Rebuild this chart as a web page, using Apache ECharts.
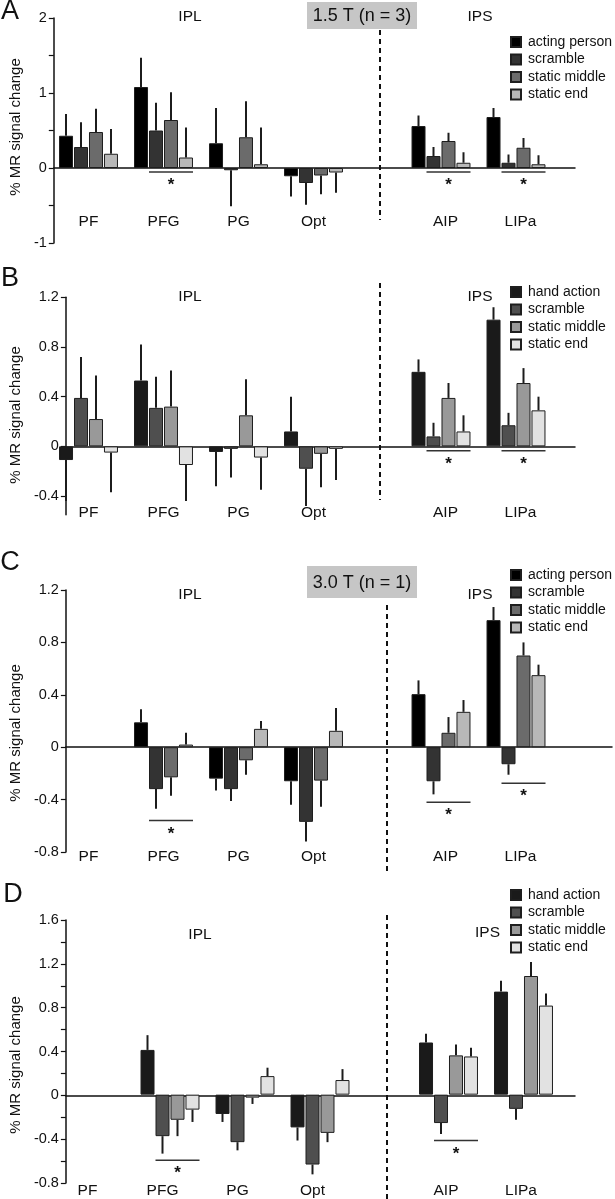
<!DOCTYPE html>
<html><head><meta charset="utf-8">
<script src="https://cdn.jsdelivr.net/npm/echarts@6/dist/echarts.min.js"></script>
<style>html,body{margin:0;padding:0;background:#fff}#c{width:615px;height:1199px}</style>
</head><body><div id="c"></div>
<script>
// ---------- DATA ----------
const catsIPL = ['PF', 'PFG', 'PG', 'Opt'];
const catsIPS = ['AIP', 'LIPa'];
const condNamesAC = ['acting person', 'scramble', 'static middle', 'static end'];
const condNamesBD = ['hand action', 'scramble', 'static middle', 'static end'];

// Panel A (1.5 T, acting person) : rows = conditions, cols = categories
const A_IPL = [[0.43, 1.08, 0.33, -0.11], [0.28, 0.50, -0.03, -0.20], [0.48, 0.64, 0.41, -0.10], [0.19, 0.14, 0.05, -0.06]];
const A_IPL_sem = [[0.29, 0.39, 0.47, 0.27], [0.33, 0.37, 0.48, 0.29], [0.31, 0.37, 0.48, 0.25], [0.33, 0.40, 0.49, 0.27]];
const A_IPS = [[0.56, 0.68], [0.16, 0.07], [0.36, 0.27], [0.07, 0.05]];
const A_IPS_sem = [[0.14, 0.12], [0.12, 0.11], [0.11, 0.13], [0.14, 0.12]];

// Panel B (1.5 T, hand action)
const B_IPL = [[-0.11, 0.53, -0.045, 0.12], [0.39, 0.31, -0.02, -0.18], [0.22, 0.32, 0.25, -0.06], [-0.05, -0.15, -0.09, -0.02]];
const B_IPL_sem = [[0.33, 0.29, 0.275, 0.28], [0.33, 0.25, 0.23, 0.30], [0.35, 0.29, 0.29, 0.27], [0.32, 0.29, 0.26, 0.25]];
const B_IPS = [[0.60, 1.02], [0.08, 0.17], [0.39, 0.51], [0.12, 0.29]];
const B_IPS_sem = [[0.10, 0.10], [0.11, 0.10], [0.12, 0.12], [0.13, 0.11]];

// Panel C (3.0 T, acting person)
const C_IPL = [[null, 0.19, -0.24, -0.26], [null, -0.32, -0.32, -0.57], [null, -0.23, -0.10, -0.255], [null, 0.02, 0.14, 0.125]];
const C_IPL_sem = [[null, 0.10, 0.09, 0.18], [null, 0.15, 0.09, 0.15], [null, 0.14, 0.11, 0.20], [null, 0.09, 0.06, 0.175]];
const C_IPS = [[0.405, 0.97], [-0.26, -0.13], [0.11, 0.70], [0.27, 0.55]];
const C_IPS_sem = [[0.105, 0.10], [0.10, 0.08], [0.12, 0.10], [0.09, 0.08]];

// Panel D (3.0 T, hand action)
const D_IPL = [[null, 0.41, -0.177, -0.30], [null, -0.38, -0.435, -0.64], [null, -0.23, -0.027, -0.35], [null, -0.137, 0.17, 0.134]];
const D_IPL_sem = [[null, 0.135, 0.073, 0.12], [null, 0.16, 0.075, 0.09], [null, 0.15, 0.058, 0.085], [null, 0.113, 0.077, 0.10]];
const D_IPS = [[0.478, 0.944], [-0.26, -0.13], [0.36, 1.087], [0.35, 0.816]];
const D_IPS_sem = [[0.08, 0.10], [0.10, 0.10], [0.10, 0.128], [0.08, 0.11]];

// significance brackets: [region, categoryIndex, fromCond, toCond, level]
const A_sig = [['IPL', 1, 1, 3, -0.053], ['IPS', 0, 1, 3, -0.053], ['IPS', 1, 1, 3, -0.053]];
const B_sig = [['IPS', 0, 1, 3, -0.035], ['IPS', 1, 1, 3, -0.035]];
const C_sig = [['IPL', 1, 1, 3, -0.56], ['IPS', 0, 1, 3, -0.42], ['IPS', 1, 1, 3, -0.275]];
const D_sig = [['IPL', 1, 1, 3, -0.60], ['IPS', 0, 1, 3, -0.42]];

// axis ticks / tick labels
const A_ticks = [-1, -0.5, 0, 0.5, 1, 1.5, 2];
const A_tickLabels = [-1, 0, 1, 2];
const B_ticks = [-0.4, 0, 0.4, 0.8, 1.2];
const B_tickLabels = [-0.4, 0, 0.4, 0.8, 1.2];
const C_ticks = [-0.8, -0.4, 0, 0.4, 0.8, 1.2];
const C_tickLabels = [-0.8, -0.4, 0, 0.4, 0.8, 1.2];
const D_ticks = [-0.8, -0.6, -0.4, -0.2, 0, 0.2, 0.4, 0.6, 0.8, 1.0, 1.2, 1.4, 1.6];
const D_tickLabels = [-0.8, -0.4, 0, 0.4, 0.8, 1.2, 1.6];

const fieldLabels = ['1.5 T (n = 3)', '3.0 T (n = 1)'];
const yName = '% MR signal change';

// ---------- LAYOUT / STYLE ----------
const FONT = "'Liberation Sans', Arial, Helvetica, sans-serif";
const colorsAC = ['#000000', '#333333', '#6b6b6b', '#b8b8b8'];
const colorsBD = ['#1a1a1a', '#4f4f4f', '#999999', '#e2e2e2'];
const BW = 14, STEP = 15;

const panels = [
  {id: 'A', names: condNamesAC, colors: colorsAC, ipl: A_IPL, iplSem: A_IPL_sem, ips: A_IPS, ipsSem: A_IPS_sem, sig: A_sig,
   ticks: A_ticks, tickLabels: A_tickLabels, min: -1, max: 2, top: 18, height: 225, Lx: 51, Rx: 403.5, fw: 524,
   labMargin: -21, lPad: [0, 0, 0, 0], rPad: [0, 0, 0, 9], namePad: [0, 0, 0, 7], legTop: 35},
  {id: 'B', names: condNamesBD, colors: colorsBD, ipl: B_IPL, iplSem: B_IPL_sem, ips: B_IPS, ipsSem: B_IPS_sem, sig: B_sig,
   ticks: B_ticks, tickLabels: B_tickLabels, min: -0.55, max: 1.2, top: 297.3, height: 217.4, Lx: 51, Rx: 403.5, fw: 524,
   labMargin: -1.5, lPad: [0, 0, 0, 0], rPad: [0, 0, 0, 9], namePad: [0, 18, 0, 0], legTop: 285},
  {id: 'C', names: condNamesAC, colors: colorsAC, ipl: C_IPL, iplSem: C_IPL_sem, ips: C_IPS, ipsSem: C_IPS_sem, sig: C_sig,
   ticks: C_ticks, tickLabels: C_tickLabels, min: -0.8, max: 1.2, top: 590, height: 262, Lx: 51, Rx: 403.5, fw: 561,
   labMargin: 5, lPad: [0, 0, 0, 0], rPad: [0, 0, 0, 9], namePad: [0, 24, 0, 0], legTop: 568},
  {id: 'D', names: condNamesBD, colors: colorsBD, ipl: D_IPL, iplSem: D_IPL_sem, ips: D_IPS, ipsSem: D_IPS_sem, sig: D_sig,
   ticks: D_ticks, tickLabels: D_tickLabels, min: -0.8, max: 1.6, top: 920, height: 263, Lx: 57.5, Rx: 411, fw: 524,
   labMargin: 9, lPad: [0, 15, 0, 0], rPad: [0, 5, 0, 0], namePad: [0, 27, 0, 0], legTop: 888}
];

const grid = [], xAxis = [], yAxis = [], series = [], legend = [];

function errRender(params, api) {
  const ci = api.value(0), k = api.value(1), v = api.value(2), e = api.value(3);
  const x = api.coord([ci, 0])[0] + (k - 1.5) * STEP;
  const y1 = api.coord([ci, v])[1];
  const y2 = api.coord([ci, v >= 0 ? v + e : v - e])[1];
  return {type: 'line', shape: {x1: x, y1: y1, x2: x, y2: y2}, style: {stroke: '#1c1c1c', lineWidth: 2}};
}
function sigRender(params, api) {
  const ci = api.value(0), k1 = api.value(1), k2 = api.value(2), lv = api.value(3);
  const c = api.coord([ci, lv]);
  const x1 = c[0] + (k1 - 1.5) * STEP - BW / 2;
  const x2 = c[0] + (k2 - 1.5) * STEP + BW / 2;
  return {type: 'group', children: [
    {type: 'line', shape: {x1: x1, y1: c[1], x2: x2, y2: c[1]}, style: {stroke: '#333', lineWidth: 1.5}},
    {type: 'text', x: (x1 + x2) / 2, y: c[1] + 5, style: {text: '*', fill: '#111', font: 'bold 17px ' + FONT, align: 'center', verticalAlign: 'top'}}
  ]};
}

panels.forEach((p, pi) => {
  const g0 = pi * 3;
  grid.push({left: 51, top: p.top, width: p.fw, height: p.height, containLabel: false});
  grid.push({left: p.Lx, top: p.top, width: 300, height: p.height});
  grid.push({left: p.Rx, top: p.top, width: 150, height: p.height});

  xAxis.push({gridIndex: g0, type: 'value', min: 0, max: 1, axisLine: {show: true, onZero: true, lineStyle: {color: '#111', width: 1.5}},
    axisTick: {show: false}, axisLabel: {show: false}, splitLine: {show: false}});
  yAxis.push({gridIndex: g0, type: 'value', min: p.min, max: p.max,
    name: yName, nameLocation: 'middle', nameGap: 29,
    nameTextStyle: {fontFamily: FONT, fontSize: 15, color: '#111', padding: p.namePad},
    axisLine: {show: true, lineStyle: {color: '#111', width: 1.5}},
    axisTick: {show: true, length: 5, customValues: p.ticks, lineStyle: {color: '#111', width: 1.2}},
    axisLabel: {show: true, customValues: p.tickLabels, margin: 7, fontFamily: FONT, fontSize: 14.5, color: '#111',
      formatter: v => String(+v.toFixed(2))},
    splitLine: {show: false}});

  [[catsIPL, p.lPad], [catsIPS, p.rPad]].forEach((cfg, j) => {
    xAxis.push({gridIndex: g0 + 1 + j, type: 'category', data: cfg[0], position: 'bottom',
      axisLine: {show: false, onZero: false}, axisTick: {show: false},
      axisLabel: {interval: 0, margin: p.labMargin, verticalAlign: 'middle', fontFamily: FONT, fontSize: 15.5, color: '#111', padding: cfg[1]},
      splitLine: {show: false}});
    yAxis.push({gridIndex: g0 + 1 + j, type: 'value', min: p.min, max: p.max, show: false, splitLine: {show: false}});
  });

  [[p.ipl, p.iplSem, 1], [p.ips, p.ipsSem, 2]].forEach(([vals, sems, off]) => {
    const errData = [];
    vals.forEach((row, k) => {
      series.push({type: 'bar', name: p.id + '|' + p.names[k], xAxisIndex: g0 + off, yAxisIndex: g0 + off,
        data: row, barWidth: BW, barGap: '7%', z: 3,
        itemStyle: {color: p.colors[k], borderColor: '#1e1e1e', borderWidth: 1}, emphasis: {disabled: true}});
      row.forEach((v, ci) => { if (v !== null) errData.push([ci, k, v, sems[k][ci]]); });
    });
    series.push({type: 'custom', xAxisIndex: g0 + off, yAxisIndex: g0 + off, z: 2, silent: true,
      renderItem: errRender, data: errData, encode: {x: 0, y: 2}});
    const region = off === 1 ? 'IPL' : 'IPS';
    const sigData = p.sig.filter(s => s[0] === region).map(s => [s[1], s[2], s[3], s[4]]);
    if (sigData.length) series.push({type: 'custom', xAxisIndex: g0 + off, yAxisIndex: g0 + off, z: 4, silent: true,
      renderItem: sigRender, data: sigData, encode: {x: 0, y: 3}});
  });

  legend.push({data: p.names.map(n => p.id + '|' + n), formatter: n => n.split('|')[1], orient: 'vertical',
    left: 510, top: p.legTop, padding: 0, icon: 'rect', itemWidth: 10, itemHeight: 10, itemGap: 3.5, selectedMode: false,
    textStyle: {fontFamily: FONT, fontSize: 14, color: '#111', lineHeight: 14, padding: [0, 0, 0, 2]}});
});

function txt(t, x, y, size, align) {
  return {type: 'text', x: x, y: y, style: {text: t, font: size + 'px ' + FONT, fill: '#111', align: align || 'center', verticalAlign: 'middle'}};
}
function dash(x, y1, y2) {
  return {type: 'line', shape: {x1: x, y1: y1, x2: x, y2: y2}, style: {stroke: '#111', lineWidth: 2, lineDash: [5, 4]}};
}
function box(t, x, y, w, h) {
  return {type: 'group', children: [
    {type: 'rect', shape: {x: x, y: y, width: w, height: h}, style: {fill: '#c6c6c6'}},
    {type: 'text', x: x + w / 2, y: y + h / 2 + 1, style: {text: t, font: '18px ' + FONT, fill: '#111', align: 'center', verticalAlign: 'middle'}}
  ]};
}
const graphic = [
  txt('A', 10, 12, 27), txt('B', 10, 279, 27), txt('C', 10, 563, 27), txt('D', 13, 895, 27),
  txt('IPL', 190, 17, 15.5), txt('IPS', 480, 17, 15.5),
  txt('IPL', 190, 297, 15.5), txt('IPS', 480, 297, 15.5),
  txt('IPL', 190, 595, 15.5), txt('IPS', 480, 595, 15.5),
  txt('IPL', 200, 935, 15.5), txt('IPS', 500, 933, 15.5, 'right'),
  box(fieldLabels[0], 307, 2, 110, 27), box(fieldLabels[1], 307, 566, 110, 32),
  dash(380, 30, 220), dash(380, 283, 500), dash(387, 605, 875), dash(387, 915, 1199)
];

const chart = echarts.init(document.getElementById('c'), null, {renderer: 'canvas'});
chart.setOption({animation: false, backgroundColor: '#fff', textStyle: {fontFamily: FONT},
  grid, xAxis, yAxis, series, legend, graphic, tooltip: {show: false}});
</script></body></html>
